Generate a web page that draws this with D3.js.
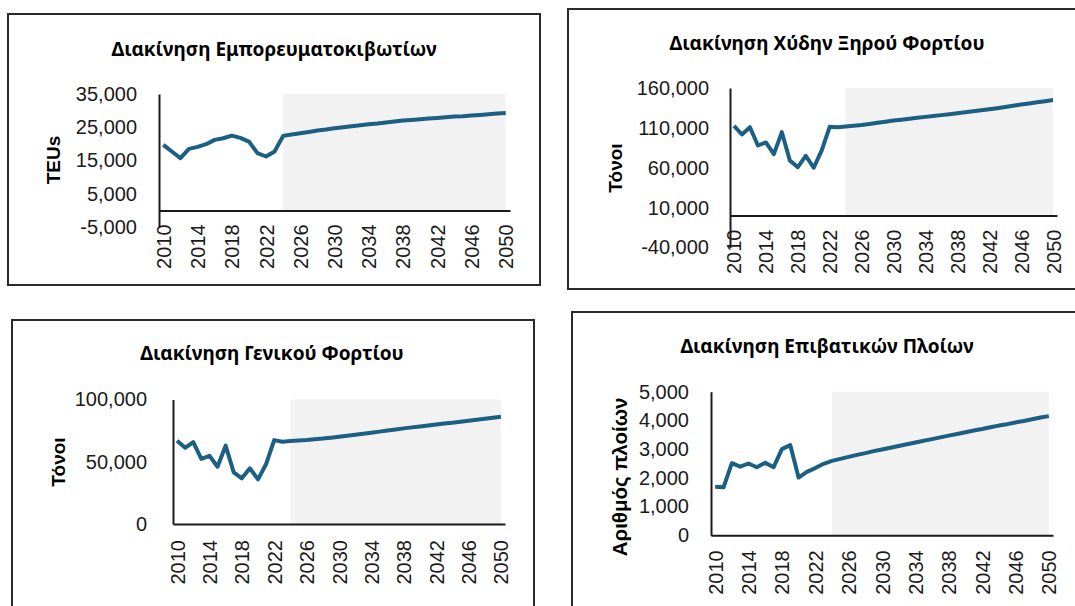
<!DOCTYPE html>
<html>
<head>
<meta charset="utf-8">
<script src="https://cdn.jsdelivr.net/npm/d3@7"></script>
<style>
  body { margin: 0; background: #fff; }
  svg { display: block; }
</style>
</head>
<body>
<div class="canvas"></div>
<script>
// data
const years = d3.range(2010, 2051);
const forecastStart = 2024;
const yearLabels = [2010, 2014, 2018, 2022, 2026, 2030, 2034, 2038, 2042, 2046, 2050];

const teus = [19700, 17700, 15700, 18500, 19100, 19900, 21200, 21700, 22500, 21800,
  20700, 17200, 16200, 17700, 22400, 22800, 23200, 23600, 24000, 24300,
  24700, 25000, 25300, 25600, 25900, 26100, 26400, 26700, 27000, 27200,
  27400, 27600, 27800, 28000, 28200, 28300, 28500, 28700, 28900, 29100, 29300];
const dryBulk = [112500, 101700, 110800, 87900, 91700, 77100, 104600, 69200, 60800, 75000,
  60000, 81700, 111300, 110800, 111700, 112600, 113500, 114900, 116300, 117700,
  119200, 120300, 121500, 122600, 123800, 124900, 126000, 127200, 128300, 129500,
  130800, 132000, 133300, 134700, 136200, 137700, 139200, 140600, 142100, 143500, 145000];
const generalCargo = [66900, 61200, 65800, 52400, 54800, 46000, 62900, 41500, 36700, 44700,
  35800, 48200, 67400, 66100, 66600, 67100, 67500, 68100, 68600, 69300,
  70100, 70900, 71700, 72500, 73300, 74200, 75100, 75900, 76800, 77600,
  78400, 79200, 80000, 80700, 81400, 82200, 82900, 83700, 84500, 85300, 86100];
const passengerShips = [1690, 1670, 2510, 2390, 2500, 2370, 2530, 2370, 3000, 3140,
  2010, 2210, 2340, 2490, 2590, 2660, 2730, 2800, 2860, 2930,
  2990, 3050, 3110, 3170, 3230, 3290, 3350, 3410, 3470, 3530,
  3590, 3650, 3700, 3760, 3820, 3870, 3930, 3980, 4040, 4100, 4150];

const teuTicks = [-5000, 5000, 15000, 25000, 35000];
const dryBulkTicks = [-40000, 10000, 60000, 110000, 160000];
const generalCargoTicks = [0, 50000, 100000];
const passengerTicks = [0, 1000, 2000, 3000, 4000, 5000];

const titles = [
  "Διακίνηση Εμπορευματοκιβωτίων",
  "Διακίνηση Χύδην Ξηρού Φορτίου",
  "Διακίνηση Γενικού Φορτίου",
  "Διακίνηση Επιβατικών Πλοίων",
];
const yTitles = ["TEUs", "Τόνοι", "Τόνοι", "Αριθμός πλοίων"];

// layout of each panel
const panels = [
  { values: teus, ticks: teuTicks, title: titles[0], yTitle: yTitles[0],
    box: [8, 14, 540, 285], xr: [159, 510], yr: [227, 94],
    titlePos: [274, 49], yTitlePos: [53, 160], yTitleSize: 19, gap: 22, xGap: 14 },
  { values: dryBulk, ticks: dryBulkTicks, title: titles[1], yTitle: yTitles[1],
    box: [568, 9, 1080, 289], xr: [730, 1057], yr: [247.5, 88],
    titlePos: [827, 43], yTitlePos: [615, 168], yTitleSize: 19, gap: 21, xGap: 14 },
  { values: generalCargo, ticks: generalCargoTicks, title: titles[2], yTitle: yTitles[2],
    box: [12, 320, 534, 612], xr: [173, 505], yr: [524, 399.5],
    titlePos: [272, 353], yTitlePos: [58, 462], yTitleSize: 19, gap: 26, xGap: 16 },
  { values: passengerShips, ticks: passengerTicks, title: titles[3], yTitle: yTitles[3],
    box: [572, 312, 1080, 612], xr: [711, 1053], yr: [535.3, 391.7],
    titlePos: [827, 346], yTitlePos: [620, 477], yTitleSize: 20.5, gap: 22, xGap: 15 },
];

const fmt = d3.formatLocale({ decimal: ".", thousands: ",", grouping: [3], currency: ["", ""], minus: "-" }).format(",");

const svg = d3
  .select(".canvas")
  .append("svg")
  .attr("width", 1075)
  .attr("height", 606);

const lineColor = "#1b5f82";
const axisColor = "#1a1a1a";

panels.forEach((p) => {
  const g = svg.append("g");

  // box
  g.append("rect")
    .attr("x", p.box[0])
    .attr("y", p.box[1])
    .attr("width", p.box[2] - p.box[0])
    .attr("height", p.box[3] - p.box[1])
    .attr("fill", "#fff")
    .attr("stroke", "#2b2b2b")
    .attr("stroke-width", 2);

  // scales
  const x = d3.scalePoint().domain(years).range(p.xr).padding(0.5);
  const y = d3
    .scaleLinear()
    .domain([p.ticks[0], p.ticks[p.ticks.length - 1]])
    .range(p.yr);

  // forecast shading
  g.append("rect")
    .attr("x", x(forecastStart))
    .attr("y", y(p.ticks[p.ticks.length - 1]))
    .attr("width", x(years[years.length - 1]) - x(forecastStart))
    .attr("height", y(0) - y(p.ticks[p.ticks.length - 1]))
    .attr("fill", "#f2f2f2");

  // title
  g.append("text")
    .attr("x", p.titlePos[0])
    .attr("y", p.titlePos[1])
    .attr("dy", "0.35em")
    .attr("text-anchor", "middle")
    .style("font-family", "'Noto Sans', sans-serif")
    .style("font-weight", "bold")
    .style("font-size", "19px")
    .attr("fill", "#000")
    .text(p.title);

  // y axis title
  g.append("text")
    .attr("transform", `translate(${p.yTitlePos[0]},${p.yTitlePos[1]}) rotate(-90)`)
    .attr("dy", "0.35em")
    .attr("text-anchor", "middle")
    .style("font-family", "'Liberation Sans', Arial, sans-serif")
    .style("font-weight", "bold")
    .style("font-size", `${p.yTitleSize}px`)
    .attr("fill", "#000")
    .text(p.yTitle);

  // axes
  const yAxis = d3.axisLeft(y).tickValues(p.ticks).tickSize(0).tickPadding(p.gap).tickFormat(fmt);
  const yAxisGroup = g.append("g").attr("transform", `translate(${p.xr[0]},0)`).call(yAxis);

  const xAxis = d3.axisBottom(x).tickValues(yearLabels).tickSize(0);
  const xAxisGroup = g.append("g").attr("transform", `translate(0,${y(0)})`).call(xAxis);

  xAxisGroup
    .selectAll("text")
    .attr("transform", "rotate(-90)")
    .attr("text-anchor", "end")
    .attr("x", -p.xGap)
    .attr("y", 0)
    .attr("dy", "0.35em");

  [yAxisGroup, xAxisGroup].forEach((ax) => {
    ax.select(".domain").attr("stroke", axisColor).attr("stroke-width", 2);
    ax.selectAll("text")
      .style("font-family", "'Liberation Sans', Arial, sans-serif")
      .style("font-size", "20px")
      .attr("fill", "#1a1a1a");
  });

  // line
  const line = d3
    .line()
    .x((d, i) => x(years[i]))
    .y((d) => y(d));

  g.append("path")
    .datum(p.values)
    .attr("fill", "none")
    .attr("stroke", lineColor)
    .attr("stroke-width", 4)
    .attr("stroke-linejoin", "round")
    .attr("d", line);
});
</script>
</body>
</html>
